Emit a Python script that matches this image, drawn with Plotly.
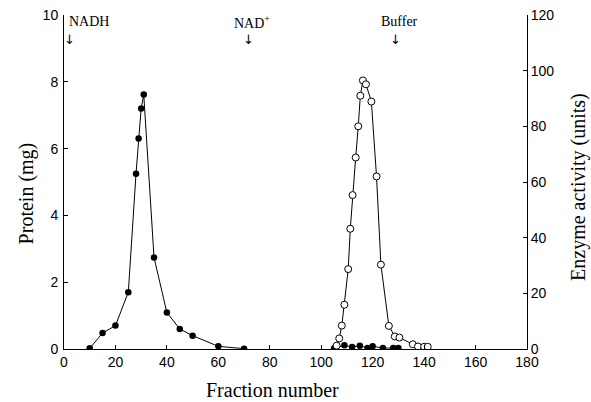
import plotly.graph_objects as go

# Protein (filled circles), first peak
frac_p1 = [10, 15, 20, 25, 28, 29, 30, 31, 35, 40, 45, 50, 60, 70]
prot_p1 = [0.02, 0.48, 0.70, 1.70, 5.25, 6.30, 7.20, 7.62, 2.74, 1.09, 0.60, 0.40, 0.08, 0.01]

# Protein (filled circles), second region
frac_p2 = [105, 109, 112, 115, 118, 120, 124, 128, 130]
prot_p2 = [0.02, 0.11, 0.06, 0.10, 0.03, 0.08, 0.03, 0.03, 0.03]

# Enzyme activity (open circles)
frac_e = [106, 107, 108, 109, 110.5, 111.3, 112.2, 113.4, 114.4, 115.2, 116.2, 117.4, 119.5,
          121.5, 123.2, 126.3, 128.6, 130.4, 135.6, 137.6, 140, 141.4]
enz = [1.2, 3.8, 8.4, 15.9, 28.7, 43.2, 55.3, 68.8, 80.0, 91.0, 96.5, 95.1, 88.9,
       62.0, 30.3, 8.3, 4.5, 4.1, 1.7, 0.9, 0.8, 0.8]

x_ticks = [0, 20, 40, 60, 80, 100, 120, 140, 160, 180]
y1_ticks = [0, 2, 4, 6, 8, 10]
y2_ticks = [0, 20, 40, 60, 80, 100, 120]

# elution markers: label, fraction where the arrow points
markers = ["NADH", "NAD<sup>+</sup>", "Buffer"]
marker_frac = [2.3, 71.6, 129.0]

fig = go.Figure()
line = dict(color="black", width=1)
fig.add_trace(go.Scatter(x=frac_e, y=enz, yaxis="y2", mode="lines+markers", line=line,
                         marker=dict(symbol="circle", size=7, color="white",
                                     line=dict(color="black", width=1)), showlegend=False))
fig.add_trace(go.Scatter(x=frac_p1, y=prot_p1, mode="lines+markers", line=line,
                         marker=dict(symbol="circle", size=6.5, color="black"), showlegend=False))
fig.add_trace(go.Scatter(x=frac_p2, y=prot_p2, mode="lines+markers", line=line,
                         marker=dict(symbol="circle", size=6.5, color="black"), showlegend=False))

serif = "Liberation Serif, Times New Roman, serif"
sans = "Liberation Sans, Arial, sans-serif"

label_shift = [None, 1.6, 1.4]
for i, (label, xpos) in enumerate(zip(markers, marker_frac)):
    if i == 0:
        fig.add_annotation(x=1.1, y=9.80, xref="x", yref="y", text=label, showarrow=False,
                           xanchor="left", font=dict(family=serif, size=14, color="black"))
    else:
        fig.add_annotation(x=xpos + label_shift[i], y=9.80, xref="x", yref="y", text=label,
                           showarrow=False, xanchor="center",
                           font=dict(family=serif, size=14, color="black"))
    fig.add_annotation(x=xpos, y=9.28, xref="x", yref="y",
                       text="\u2193", showarrow=False, xanchor="center",
                       font=dict(family="DejaVu Sans", size=13, color="black"))

title_font = dict(family=serif, size=20, color="black")
fig.add_annotation(text="Protein (mg)", xref="paper", yref="paper", x=-0.082, y=0.466,
                   textangle=-90, showarrow=False, font=title_font,
                   xanchor="center", yanchor="middle")
fig.add_annotation(text="Enzyme activity (units)", xref="paper", yref="paper", x=1.110, y=0.485,
                   textangle=-90, showarrow=False, font=title_font,
                   xanchor="center", yanchor="middle")
fig.add_annotation(text="Fraction number", xref="paper", yref="paper", x=0.450, y=-0.122,
                   showarrow=False, font=title_font, xanchor="center", yanchor="middle")

axis_common = dict(showgrid=False, zeroline=False, ticks="inside", ticklen=4,
                   tickcolor="black", showline=True, linecolor="black", linewidth=1,
                   automargin=False,
                   tickfont=dict(family=sans, size=14, color="black"))

fig.update_layout(
    width=591, height=402,
    margin=dict(l=64, r=64, t=15, b=53),
    plot_bgcolor="white", paper_bgcolor="white",
    xaxis=dict(range=[0, 180], tickvals=x_ticks, **axis_common),
    yaxis=dict(range=[0, 10], tickvals=y1_ticks, ticklabelstandoff=2, **axis_common),
    yaxis2=dict(range=[0, 120], tickvals=y2_ticks, overlaying="y", side="right",
                **axis_common),
)

fig.write_html("out.html", post_script="document.body.style.margin='0';",
               config={"displayModeBar": False})
